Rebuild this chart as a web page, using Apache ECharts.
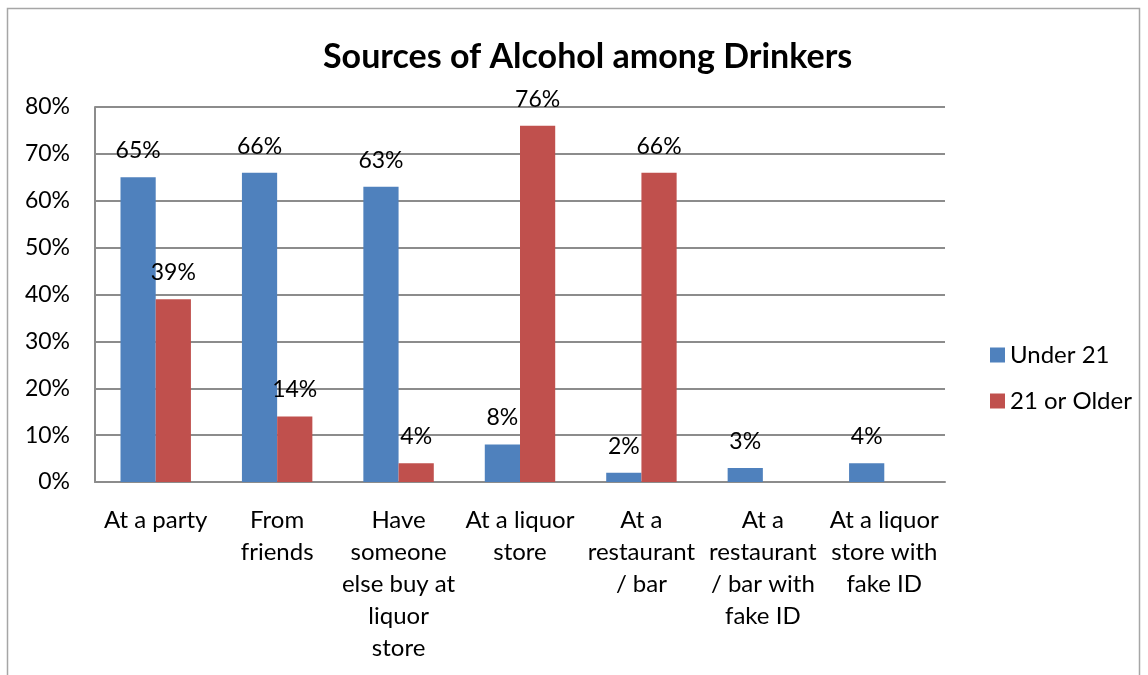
<!DOCTYPE html>
<html>
<head>
<meta charset="utf-8">
<script src="https://cdn.jsdelivr.net/npm/echarts@6/dist/echarts.min.js"></script>
<style>
html,body{margin:0;padding:0;background:#fff;}
#chart{width:1148px;height:675px;}
</style>
</head>
<body>
<div id="chart"></div>
<script>
const categories = [
  "At a party",
  "From\nfriends",
  "Have\nsomeone\nelse buy at\nliquor\nstore",
  "At a liquor\nstore",
  "At a\nrestaurant\n/ bar",
  "At a\nrestaurant\n/ bar with\nfake ID",
  "At a liquor\nstore with\nfake ID"
];
const under21 = [65, 66, 63, 8, 2, 3, 4];
const older21 = [39, 14, 4, 76, 66, null, null];
const yTicks = [0, 10, 20, 30, 40, 50, 60, 70, 80];

const FONT = 'Lato';
const chart = echarts.init(document.getElementById('chart'), null, {renderer: 'canvas'});
const labelCfg = {
  show: true, position: 'top', distance: 15,
  color: '#000', fontFamily: FONT, fontSize: 23,
  formatter: p => (p.value == null ? '' : p.value + '%')
};
chart.setOption({
  animation: false,
  backgroundColor: '#fff',
  title: {
    text: 'Sources of Alcohol among Drinkers',
    left: 318, top: 35,
    textStyle: {fontFamily: FONT, fontSize: 34, fontWeight: 'bold', color: '#000'}
  },
  legend: {
    orient: 'vertical', left: 985, top: 338,
    itemWidth: 15, itemHeight: 15, itemGap: 22,
    icon: 'rect',
    textStyle: {fontFamily: FONT, fontSize: 24, color: '#000'},
    data: ['Under 21', '21 or Older']
  },
  grid: {left: 95, right: 203, top: 107, bottom: 193, containLabel: false},
  xAxis: {
    type: 'category', data: categories,
    axisLine: {lineStyle: {color: '#8c8c8c', width: 2}},
    axisTick: {show: false},
    axisLabel: {interval: 0, margin: 22, color: '#000', fontFamily: FONT, fontSize: 24, lineHeight: 32, align: 'center'}
  },
  yAxis: {
    type: 'value', min: 0, max: 80, interval: 10,
    axisLine: {show: true, lineStyle: {color: '#8c8c8c', width: 2}},
    axisTick: {show: false},
    splitLine: {lineStyle: {color: '#8c8c8c', width: 2}},
    axisLabel: {margin: 25, color: '#000', fontFamily: FONT, fontSize: 23, formatter: v => yTicks.includes(v) ? v + '%' : ''}
  },
  series: [
    {name: 'Under 21', type: 'bar', data: under21, barGap: '0%', barCategoryGap: '42%',
     itemStyle: {color: '#4F81BD'}, label: labelCfg},
    {name: '21 or Older', type: 'bar', data: older21, barGap: '0%', barCategoryGap: '42%',
     itemStyle: {color: '#C0504D'}, label: labelCfg}
  ],
  graphic: [{
    type: 'rect', silent: true, z: -1,
    shape: {x: 7.5, y: 8.5, width: 1132, height: 700},
    style: {fill: null, stroke: '#a6a6a6', lineWidth: 1.5}
  }]
});
</script>
</body>
</html>
